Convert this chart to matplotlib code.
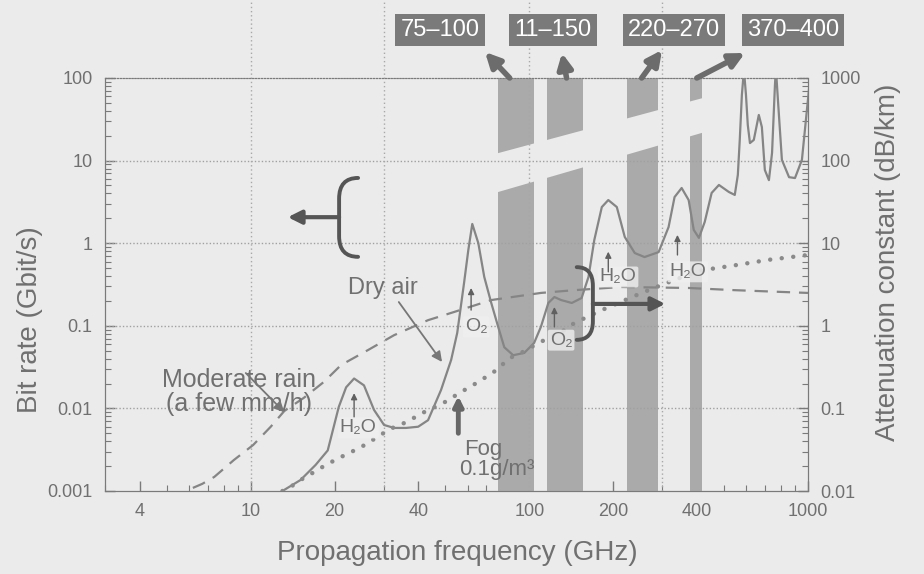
import numpy as np
import matplotlib
matplotlib.use('Agg')
import matplotlib.pyplot as plt
from matplotlib.path import Path
from matplotlib.patches import PathPatch
from matplotlib.ticker import LogLocator, NullFormatter

plt.rcParams['font.family'] = ['Liberation Sans', 'DejaVu Sans']

'''
data read off the picture (frequency in GHz, attenuation in dB/km)
'''
dry_freq = [13.0, 15.1, 17.1, 18.9, 20.7, 22.0, 23.5, 25.5, 27.7, 30.1, 32.7, 36.1,
            39.9, 43.3, 48.2, 52.4, 55.1, 58.3, 60.4, 62.4, 65.6, 68.9, 73.0, 77.3,
            81.3, 87.5, 95.9, 104, 110, 117, 123, 130, 142, 154, 163, 171, 182,
            192, 206, 220, 239, 259, 291, 316, 332, 352, 373, 389, 406, 426, 451,
            479, 520, 546, 560, 569, 579, 589, 599, 608, 619, 639, 666, 683, 700,
            724, 743, 761, 767, 780, 806, 855, 898, 951, 991, 1016]
dry_att = [0.010, 0.0136, 0.0207, 0.031, 0.104, 0.18, 0.23, 0.19, 0.096, 0.063, 0.058, 0.058,
           0.060, 0.072, 0.167, 0.386, 0.82, 3.3, 8.3, 17.1, 10.0, 3.9, 1.89, 0.97,
           0.55, 0.44, 0.47, 0.62, 0.97, 1.89, 2.23, 2.05, 1.89, 2.17, 3.9, 10.9, 27.4,
           33.3, 27.4, 11.9, 7.6, 6.8, 7.8, 15.7, 36.2, 46.6, 33.3, 14.5, 11.6, 18.1, 40.6,
           50.7, 41.7, 38.4, 67, 178, 622, 1250, 622, 270, 163, 178, 357, 255, 77,
           58, 124, 822, 1300, 542, 102, 63, 61.5, 102, 410, 946]

rain_freq = [6.2, 6.7, 7.4, 8.7, 10.2, 11.8, 13.2, 15.5, 18.3, 21.1, 26.4, 32.7, 43.3,
             53.7, 73.0, 110, 145, 214, 373, 546, 1000]
rain_att = [0.0109, 0.0122, 0.0148, 0.0237, 0.036, 0.060, 0.093, 0.134, 0.209, 0.335,
            0.51, 0.77, 1.17, 1.47, 2.05, 2.5, 2.7, 2.95, 2.87, 2.7, 2.5]

fog_freq = [13.0, 13.9, 15.1, 17.4, 18.6, 21.1, 24.9, 29.4, 31.1, 36.1, 41.9, 49.1, 56.9,
            65.6, 77.3, 84, 93.5, 108, 134, 145, 182, 253, 332, 416, 546, 724, 1000]
fog_att = [0.010, 0.0112, 0.0136, 0.018, 0.0207, 0.0258, 0.034, 0.048, 0.055, 0.068,
           0.090, 0.116, 0.158, 0.209, 0.30, 0.40, 0.47, 0.62, 0.89, 1.08, 1.55, 2.5,
           3.6, 4.7, 5.4, 6.3, 7.2]

band_lo = [77, 116, 225, 377]
band_hi = [104, 156, 290, 415]
band_labels = ['75–100', '11–150', '220–270', '370–400']
band_arrow_freq = [85, 136, 253, 399]

x_ticks = [4, 10, 20, 40, 100, 200, 400, 1000]
left_ticks = [0.001, 0.01, 0.1, 1, 10, 100]
left_labels = ['0.001', '0.01', '0.1', '1', '10', '100']
right_ticks = [0.01, 0.1, 1, 10, 100, 1000]
right_labels = ['0.01', '0.1', '1', '10', '100', '1000']

bg = '#ebebeb'
txt = '#707070'
line_c = '#858585'

fig = plt.figure(figsize=(9.24, 5.74), dpi=100, facecolor=bg)
ax = fig.add_axes([105 / 924, 1 - 491 / 574, 703 / 924, 413 / 574])
ax.set_facecolor(bg)
ax.set_xscale('log')
ax.set_yscale('log')
ax.set_xlim(3, 1000)
ax.set_ylim(0.001, 100)
ax2 = ax.twinx()
ax2.set_yscale('log')
ax2.set_ylim(0.01, 1000)

ax.set_xticks(x_ticks, labels=[str(t) for t in x_ticks])
ax.set_yticks(left_ticks, labels=left_labels)
ax2.set_yticks(right_ticks, labels=right_labels)
for a in (ax, ax2):
    a.xaxis.set_minor_locator(LogLocator(subs=np.arange(2, 10), numticks=20))
    a.yaxis.set_minor_locator(LogLocator(subs=np.arange(2, 10), numticks=20))
    a.xaxis.set_minor_formatter(NullFormatter())
    a.yaxis.set_minor_formatter(NullFormatter())
    a.tick_params(which='both', direction='in', colors='#7a7a7a', labelcolor=txt,
                  labelsize=13, pad=9)
    a.tick_params(which='major', length=7, width=1)
    a.tick_params(which='minor', length=4, width=0.8)
    for s in a.spines.values():
        s.set_color('#7a7a7a')
    a.spines['top'].set_linestyle(':')
ax.tick_params(top=False, right=False)
ax2.tick_params(top=False)

# bands and the break across them
for lo, hi in zip(band_lo, band_hi):
    ax2.axvspan(lo, hi, color='#aaaaaa', lw=0, zorder=0.2)
ax2.fill([73, 433, 433, 73], [117, 589, 225, 39.4], color=bg, lw=0, zorder=0.3)

# grid
for v in right_ticks[1:-1]:
    ax2.axhline(v, color='#a0a0a0', lw=1, ls=(0, (1, 1.5)), zorder=1)
for f in [10, 30, 100, 300]:
    ax2.axvline(f, ymin=0, ymax=1.19, color='#a8a8a8', lw=1, ls=(0, (1, 2)),
                zorder=1, clip_on=False)

# curves
ax2.plot(dry_freq, dry_att, color=line_c, lw=1.6, zorder=3)
ax2.plot(rain_freq, rain_att, color=line_c, lw=1.6, ls=(0, (6, 4)), zorder=3)
ax2.plot(fog_freq, fog_att, color='#8a8a8a', lw=3.2, ls=(0, (0.01, 2.6)),
         dash_capstyle='round', zorder=3)

# text annotations
ax2.text(9.06, 0.158, 'Moderate rain\n(a few mm/h)', fontsize=18, color=txt,
         ha='center', va='center', linespacing=1.05, zorder=4)
ax2.annotate('', xy=(13.2, 0.090), xytext=(9.6, 0.268),
             arrowprops=dict(arrowstyle='-|>', color='#777777', lw=1.3, mutation_scale=15,
                             shrinkA=0, shrinkB=0), zorder=4)
ax2.text(29.9, 2.87, 'Dry air', fontsize=17, color=txt, ha='center', va='center', zorder=4)
ax2.annotate('', xy=(48.6, 0.365), xytext=(34.0, 1.94),
             arrowprops=dict(arrowstyle='-|>', color='#777777', lw=1.3, mutation_scale=15,
                             shrinkA=0, shrinkB=0), zorder=4)

mol_labels = [('H₂O', 24.3, 0.058, 23.5, 0.079, 0.153),
              ('O₂', 64.4, 0.97, 61.8, 1.55, 2.87),
              ('O₂', 130, 0.67, 123, 0.97, 1.69),
              ('H₂O', 208, 3.9, 192, 4.5, 7.9),
              ('H₂O', 370, 4.5, 340, 7.2, 12.6)]
for lab, tx, ty, axx, y0, y1 in mol_labels:
    ax2.text(tx, ty, lab, fontsize=14, color=txt, ha='center', va='center', zorder=4,
             bbox=dict(boxstyle='round,pad=0.1', fc='#f0f0f0', ec='none', alpha=0.8))
    ax2.annotate('', xy=(axx, y1), xytext=(axx, y0),
                 arrowprops=dict(arrowstyle='-|>', color='#606060', lw=1.0,
                                 mutation_scale=9, shrinkA=0, shrinkB=0), zorder=4)

ax2.annotate('', xy=(55.6, 0.141), xytext=(55.6, 0.050),
             arrowprops=dict(arrowstyle='-|>', color='#666666', lw=3.5, mutation_scale=14,
                             shrinkA=0, shrinkB=0), zorder=4)
ax2.text(68.4, 0.032, 'Fog', fontsize=16, color=txt, ha='center', va='center', zorder=4)
ax2.text(76.7, 0.018, '0.1g/m³', fontsize=16, color=txt, ha='center', va='center', zorder=4)

# brackets with arrows (axes fraction)
bc = '#555555'


def bracket(xl, xr, yt, yb, ry):
    verts = [(xr, yt), (xl, yt), (xl, yt - ry), (xl, yb + ry), (xl, yb), (xr, yb)]
    codes = [Path.MOVETO, Path.CURVE3, Path.CURVE3, Path.LINETO, Path.CURVE3, Path.CURVE3]
    ax2.add_patch(PathPatch(Path(verts, codes), fc='none', ec=bc, lw=2.8,
                            transform=ax2.transAxes, zorder=5, capstyle='round'))


bracket(0.333, 0.360, 0.758, 0.567, 0.05)
ax2.annotate('', xy=(0.260, 0.663), xytext=(0.333, 0.663), xycoords='axes fraction',
             arrowprops=dict(arrowstyle='-|>', color=bc, lw=3, mutation_scale=20,
                             shrinkA=0, shrinkB=0), zorder=5)
bracket(0.694, 0.671, 0.542, 0.366, 0.045)
ax2.annotate('', xy=(0.797, 0.453), xytext=(0.694, 0.453), xycoords='axes fraction',
             arrowprops=dict(arrowstyle='-|>', color=bc, lw=3, mutation_scale=20,
                             shrinkA=0, shrinkB=0), zorder=5)

# band boxes on top
box_x = [440 / 924, 553 / 924, 674 / 924, 793 / 924]
head_xy = [(485 / 924, 1 - 52 / 574), (562 / 924, 1 - 53 / 574),
           (662 / 924, 1 - 50 / 574), (745 / 924, 1 - 53 / 574)]
for lab, bx, hxy, fa in zip(band_labels, box_x, head_xy, band_arrow_freq):
    fig.text(bx, 1 - 30 / 574, lab, fontsize=17, color='white', ha='center', va='center',
             bbox=dict(boxstyle='square,pad=0.22', fc='#7a7a7a', ec='none'))
    ax2.annotate('', xy=hxy, xycoords='figure fraction', xytext=(fa, 1.0),
                 textcoords=('data', 'axes fraction'),
                 arrowprops=dict(arrowstyle='-|>', color='#6c6c6c', lw=4, mutation_scale=22,
                                 shrinkA=0, shrinkB=0), annotation_clip=False)

fig.text(30 / 924, 1 - 320 / 574, 'Bit rate (Gbit/s)', fontsize=20, color=txt,
         rotation=90, ha='center', va='center')
fig.text(888 / 924, 1 - 262 / 574, 'Attenuation constant (dB/km)', fontsize=20, color=txt,
         rotation=90, ha='center', va='center')
fig.text(457 / 924, 1 - 553 / 574, 'Propagation frequency (GHz)', fontsize=20, color=txt,
         ha='center', va='center')

fig.savefig('out.png', dpi=100, facecolor=bg)
